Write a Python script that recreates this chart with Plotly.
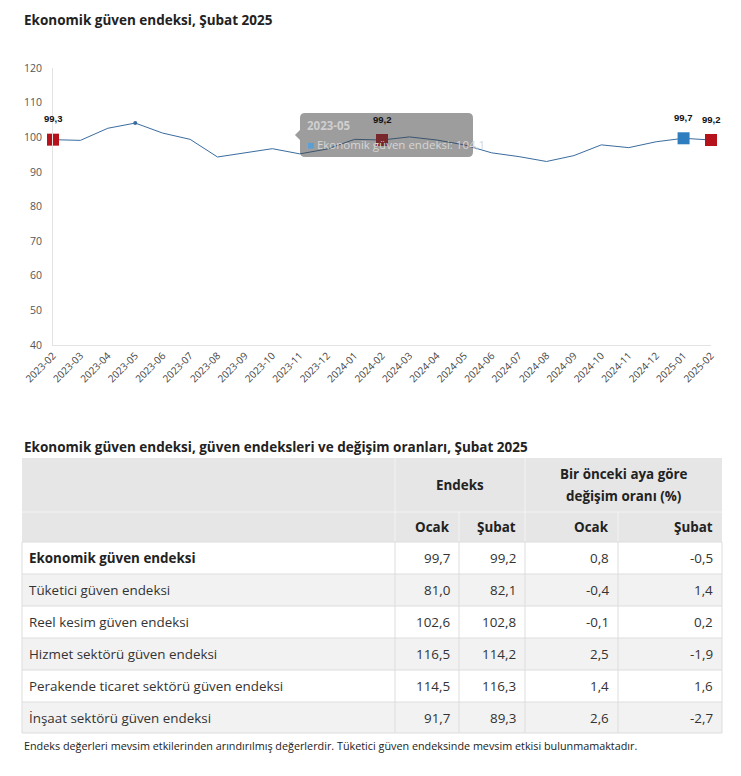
import plotly.graph_objects as go

W, H = 741, 776
OFF = 8  # page body margin
FW, FH = W - OFF, H - OFF

months = ["2023-02", "2023-03", "2023-04", "2023-05", "2023-06", "2023-07", "2023-08",
          "2023-09", "2023-10", "2023-11", "2023-12", "2024-01", "2024-02", "2024-03",
          "2024-04", "2024-05", "2024-06", "2024-07", "2024-08", "2024-09", "2024-10",
          "2024-11", "2024-12", "2025-01", "2025-02"]
egi = [99.3, 99.1, 102.6, 104.1, 101.2, 99.4, 94.3, 95.5, 96.7, 95.2, 96.6, 99.4, 99.2,
       100.1, 99.2, 97.8, 95.5, 94.4, 93.0, 94.7, 97.8, 97.0, 98.7, 99.7, 99.2]

highlight_months = ["2023-02", "2024-02", "2025-01", "2025-02"]
highlight_colors = ["#b5121b", "#b5121b", "#2e7dbf", "#b5121b"]
hover_month = "2023-05"

y_ticks = [40, 50, 60, 70, 80, 90, 100, 110, 120]

row_labels = ["Ekonomik güven endeksi", "Tüketici güven endeksi", "Reel kesim güven endeksi",
              "Hizmet sektörü güven endeksi", "Perakende ticaret sektörü güven endeksi",
              "İnşaat sektörü güven endeksi"]
endeks_ocak = [99.7, 81.0, 102.6, 116.5, 114.5, 91.7]
endeks_subat = [99.2, 82.1, 102.8, 114.2, 116.3, 89.3]
degisim_ocak = [0.8, -0.4, -0.1, 2.5, 1.4, 2.6]
degisim_subat = [-0.5, 1.4, 0.2, -1.9, 1.6, -2.7]
group_headers = ["Endeks", "Bir önceki aya göre", "değişim oranı (%)"]
sub_headers = ["Ocak", "Şubat", "Ocak", "Şubat"]

FONT = "Open Sans"


def px_x(x):
    return (x - OFF) / FW


def px_y(y):
    return 1 - (y - OFF) / FH


def tr(v):
    return f"{v:.1f}".replace(".", ",")


def text(x, y, s, size=13, color="#333", xanchor="left", bold=False, family=FONT):
    fig.add_annotation(xref="paper", yref="paper", x=px_x(x), y=px_y(y), xanchor=xanchor,
                       yanchor="middle", text=f"<b>{s}</b>" if bold else s, showarrow=False,
                       font=dict(family=family, size=size, color=color))


def rect(x0, y0, x1, y1, fill):
    fig.add_shape(type="rect", xref="paper", yref="paper",
                  x0=px_x(x0), x1=px_x(x1), y0=px_y(y1), y1=px_y(y0),
                  fillcolor=fill, line=dict(width=0), layer="below")


def hline(x0, x1, y, color):
    fig.add_shape(type="line", xref="paper", yref="paper", x0=px_x(x0), x1=px_x(x1),
                  y0=px_y(y), y1=px_y(y), line=dict(color=color, width=1), layer="below")


def vline(x, y0, y1, color):
    fig.add_shape(type="line", xref="paper", yref="paper", x0=px_x(x), x1=px_x(x),
                  y0=px_y(y0), y1=px_y(y1), line=dict(color=color, width=1), layer="below")


fig = go.Figure()

# main line
fig.add_trace(go.Scatter(
    x=months, y=egi, mode="lines", line=dict(color="#3a6c9e", width=1),
    hoverinfo="skip", showlegend=False))

# hovered point
hi = months.index(hover_month)
fig.add_trace(go.Scatter(
    x=[hover_month], y=[egi[hi]], mode="markers",
    marker=dict(color="#3a6c9e", size=4), showlegend=False, cliponaxis=False))

# highlighted markers
hvals = [egi[months.index(m)] for m in highlight_months]
fig.add_trace(go.Scatter(
    x=highlight_months, y=hvals, mode="markers",
    marker=dict(symbol="square", size=12, color=highlight_colors, line=dict(width=0)),
    showlegend=False, cliponaxis=False))

for m, v in zip(highlight_months, hvals):
    fig.add_annotation(x=m, y=v, xref="x", yref="y", text=f"<b>{tr(v)}</b>",
                       showarrow=False, yshift=21,
                       font=dict(family="Liberation Sans", size=9.5, color="#111"))

# ---- table (drawn with shapes and annotations) ----
col_edges = [22, 395, 459, 525, 618, 722]
hdr_top, hdr_mid, hdr_bot = 458, 512, 542
row_edges = [542, 574, 606, 638, 670, 702, 733]
HDR_FILL = "#e6e6e6"
HDR_LINE = "#f3f3f3"
CELL_LINE = "#dddddd"
TS = 13.4

rect(col_edges[0], hdr_top, col_edges[-1], hdr_bot, HDR_FILL)
hline(col_edges[0], col_edges[-1], hdr_mid, HDR_LINE)
for x in (col_edges[1], col_edges[3]):
    vline(x, hdr_top, hdr_bot, HDR_LINE)
for x in (col_edges[2], col_edges[4]):
    vline(x, hdr_mid, hdr_bot, HDR_LINE)

for i in range(len(row_labels)):
    fill = "#ffffff" if i % 2 == 0 else "#f2f2f2"
    rect(col_edges[0], row_edges[i], col_edges[-1], row_edges[i + 1], fill)
for y in row_edges:
    hline(col_edges[0], col_edges[-1], y, CELL_LINE)
for x in col_edges:
    vline(x, row_edges[0], row_edges[-1], CELL_LINE)

# header texts
text((col_edges[1] + col_edges[3]) / 2, (hdr_top + hdr_mid) / 2, group_headers[0],
     size=TS, color="#222", xanchor="center", bold=True)
text((col_edges[3] + col_edges[5]) / 2, 474, group_headers[1], size=TS, color="#222",
     xanchor="center", bold=True)
text((col_edges[3] + col_edges[5]) / 2, 496, group_headers[2], size=TS, color="#222",
     xanchor="center", bold=True)
for j, s in enumerate(sub_headers):
    text(col_edges[j + 2] - 7, (hdr_mid + hdr_bot) / 2, s, size=TS, color="#222",
         xanchor="right", bold=True)

# data cells
columns = [endeks_ocak, endeks_subat, degisim_ocak, degisim_subat]
for i, lab in enumerate(row_labels):
    yc = (row_edges[i] + row_edges[i + 1]) / 2
    text(col_edges[0] + 5, yc, lab, size=TS, color="#222" if i == 0 else "#333", bold=(i == 0))
    for j, col in enumerate(columns):
        text(col_edges[j + 2] - 7, yc, tr(col[i]), size=TS, color="#333", xanchor="right")

# titles and footnote
text(22, 20, "Ekonomik güven endeksi, Şubat 2025", size=13.5, color="#222", bold=True)
text(22, 447, "Ekonomik güven endeksi, güven endeksleri ve değişim oranları, Şubat 2025",
     size=13.5, color="#222", bold=True)
text(22, 745, "Endeks değerleri mevsim etkilerinden arındırılmış değerlerdir. "
              "Tüketici güven endeksinde mevsim etkisi bulunmamaktadır.", size=10.8, color="#222")

# tooltip box (hover state in reference)
bx0, bx1, by0, by1 = 300, 473, 113, 157
rr = 5


def P(x, y):
    return f"{px_x(x):.5f},{px_y(y):.5f}"


path = (f"M {P(bx0 + rr, by0)} L {P(bx1 - rr, by0)} Q {P(bx1, by0)} {P(bx1, by0 + rr)} "
        f"L {P(bx1, by1 - rr)} Q {P(bx1, by1)} {P(bx1 - rr, by1)} L {P(bx0 + rr, by1)} "
        f"Q {P(bx0, by1)} {P(bx0, by1 - rr)} L {P(bx0, 140)} L {P(bx0 - 5, 135)} L {P(bx0, 130)} "
        f"L {P(bx0, by0 + rr)} Q {P(bx0, by0)} {P(bx0 + rr, by0)} Z")
fig.add_shape(type="path", path=path, xref="paper", yref="paper",
              fillcolor="rgba(60,60,60,0.5)", line=dict(width=0), layer="above")
text(305, 125, f"<b>{hover_month}</b>", size=11.5, color="#cfcfcf")
text(305, 145, f"<span style='color:#5aa0d8'>■</span> Ekonomik güven endeksi: {tr(egi[hi])}",
     size=11.5, color="#d6d6d6")

fig.update_layout(
    width=FW, height=FH, margin=dict(l=0, r=0, t=0, b=0),
    paper_bgcolor="white", plot_bgcolor="white", separators=",.",
    xaxis=dict(domain=[px_x(53), px_x(711)], type="category", range=[0, len(months) - 1],
               tickangle=-45, tickfont=dict(family=FONT, size=10, color="#444"),
               showgrid=False, showline=True, linecolor="#e3e3e3", linewidth=1,
               zeroline=False, ticks="", automargin=False),
    yaxis=dict(domain=[px_y(345), px_y(68)], range=[40, 120], tickvals=y_ticks,
               tickfont=dict(family=FONT, size=10.5, color="#555"),
               showgrid=False, showline=True, linecolor="#e3e3e3", linewidth=1,
               zeroline=False, ticks="", ticklabelstandoff=8, automargin=False),
    showlegend=False,
)

fig.write_html("out.html")
